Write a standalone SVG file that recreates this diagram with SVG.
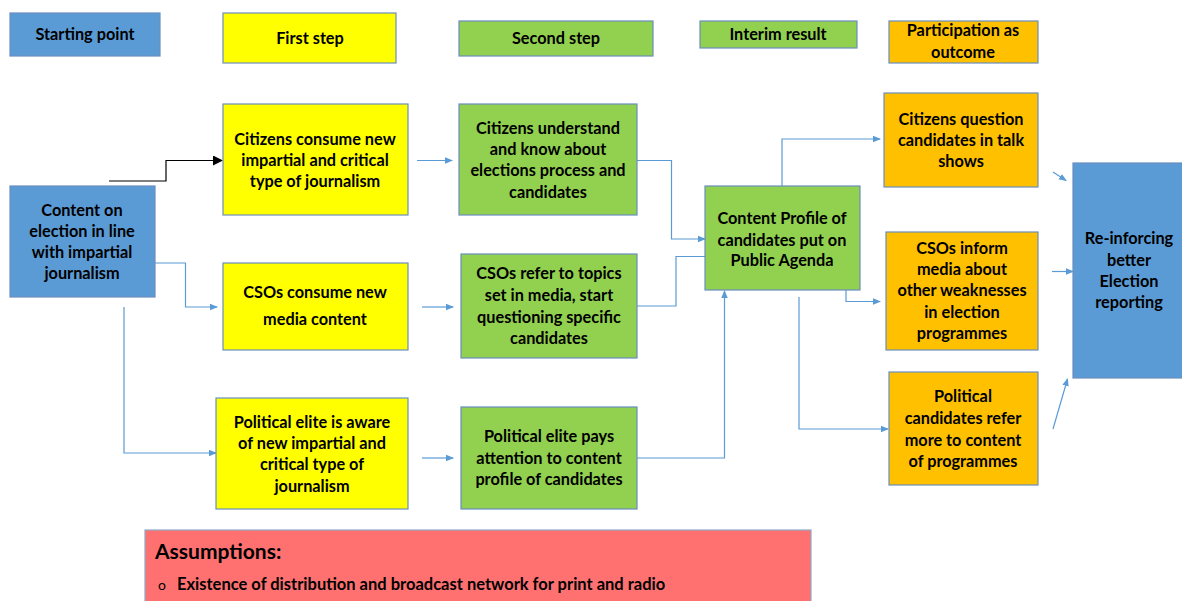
<svg xmlns="http://www.w3.org/2000/svg" width="1182" height="601" viewBox="0 0 1182 601">
<defs>
<style>
.box{stroke:#6A8EBF;stroke-width:1.2}
.blue{fill:#5B9BD5}
.yel{fill:#FFFF00}
.grn{fill:#92D050}
.org{fill:#FFC000}
text{font-family:Lato,"Open Sans","Liberation Sans",sans-serif;font-weight:bold;font-size:16.3px;fill:#000;text-anchor:middle}
.c{fill:none;stroke:#5B9BD5;stroke-width:1.2}
.k{fill:none;stroke:#000;stroke-width:1.2}
</style>
<marker id="ab" markerWidth="8" markerHeight="8" refX="7" refY="4" orient="auto" markerUnits="userSpaceOnUse">
<path d="M0,0.8 L8,4 L0,7.2 Z" fill="#5B9BD5"/>
</marker>
<marker id="ak" markerWidth="10" markerHeight="10" refX="9" refY="5" orient="auto" markerUnits="userSpaceOnUse">
<path d="M0,0 L10,5 L0,10 Z" fill="#000"/>
</marker>
</defs>
<rect width="1182" height="601" fill="#fff"/>

<g id="legend">
<g id="leg-start"><rect class="box blue" x="10" y="13" width="150" height="43"/><text x="85" y="40">Starting point</text></g>
<g id="leg-first"><rect class="box yel" x="223" y="13" width="173" height="50"/><text x="310" y="44">First step</text></g>
<g id="leg-second"><rect class="box grn" x="459" y="21" width="194" height="35"/><text x="556" y="44">Second step</text></g>
<g id="leg-interim"><rect class="box grn" x="700" y="21" width="157" height="27"/><text x="778" y="40">Interim result</text></g>
<g id="leg-outcome"><rect class="box org" x="889" y="21" width="149" height="42"/><text x="963" y="36">Participation as</text><text x="963" y="58">outcome</text></g>
</g>

<g id="connectors">
<polyline class="k" points="109,181 166,181 166,160.5 222,160.5" marker-end="url(#ak)"/>
<polyline class="c" points="155,263 185.5,263 185.5,307 217,307" marker-end="url(#ab)"/>
<polyline class="c" points="124,307 124,453 216,453" marker-end="url(#ab)"/>
<line class="c" x1="417" y1="160.5" x2="452" y2="160.5" marker-end="url(#ab)"/>
<line class="c" x1="422" y1="307" x2="453" y2="307" marker-end="url(#ab)"/>
<line class="c" x1="422" y1="458" x2="453" y2="458" marker-end="url(#ab)"/>
<polyline class="c" points="637,160.5 671.5,160.5 671.5,239 705,239" marker-end="url(#ab)"/>
<polyline class="c" points="637,306 676,306 676,256.5 715,256.5" marker-end="url(#ab)"/>
<polyline class="c" points="637,458 724.5,458 724.5,291" marker-end="url(#ab)"/>
<polyline class="c" points="782,186 782,139 880,139" marker-end="url(#ab)"/>
<polyline class="c" points="846,290 846,301.5 880,301.5" marker-end="url(#ab)"/>
<polyline class="c" points="799,297 799,429 888,429" marker-end="url(#ab)"/>
<line class="c" x1="1053" y1="172" x2="1066" y2="180.5" marker-end="url(#ab)"/>
<line class="c" x1="1052" y1="271.5" x2="1073" y2="271.5" marker-end="url(#ab)"/>
<line class="c" x1="1053" y1="429" x2="1067.5" y2="379" marker-end="url(#ab)"/>
</g>

<g id="n-content">
<rect class="box blue" x="10" y="186" width="145" height="111"/>
<text x="82" y="215.5">Content on</text><text x="82" y="236.5">election in line</text><text x="82" y="257.5">with impartial</text><text x="82" y="278.5">journalism</text>
</g>
<g id="n-cit-consume">
<rect class="box yel" x="223" y="104" width="185" height="111"/>
<text x="315" y="144.5">Citizens consume new</text><text x="315" y="165.5">impartial and critical</text><text x="315" y="186.5">type of journalism</text>
</g>
<g id="n-cso-consume">
<rect class="box yel" x="223" y="263" width="185" height="87"/>
<text x="315" y="297.5">CSOs consume new</text><text x="315" y="324.5">media content</text>
</g>
<g id="n-pol-aware">
<rect class="box yel" x="216" y="398" width="192" height="111"/>
<text x="312" y="427.5">Political elite is aware</text><text x="312" y="448.5">of new impartial and</text><text x="312" y="469.5">critical type of</text><text x="312" y="491.5">journalism</text>
</g>
<g id="n-cit-understand">
<rect class="box grn" x="459" y="104" width="178" height="111"/>
<text x="548" y="133.5">Citizens understand</text><text x="548" y="154.5">and know about</text><text x="548" y="175.5">elections process and</text><text x="548" y="197.5">candidates</text>
</g>
<g id="n-cso-refer">
<rect class="box grn" x="461" y="254" width="176" height="104"/>
<text x="549" y="278.5">CSOs refer to topics</text><text x="549" y="300.5">set in media, start</text><text x="549" y="322.5">questioning specific</text><text x="549" y="343.5">candidates</text>
</g>
<g id="n-pol-pays">
<rect class="box grn" x="461" y="407" width="176" height="102"/>
<text x="549" y="441.5">Political elite pays</text><text x="549" y="463.5">attention to content</text><text x="549" y="484.5">profile of candidates</text>
</g>
<g id="n-profile">
<rect class="box grn" x="705" y="186" width="155" height="104"/>
<text x="782" y="223.5">Content Profile of</text><text x="782" y="245.5">candidates put on</text><text x="782" y="265.5">Public Agenda</text>
</g>
<g id="n-cit-question">
<rect class="box org" x="884" y="93" width="154" height="94"/>
<text x="961" y="124.5">Citizens question</text><text x="961" y="145.5">candidates in talk</text><text x="961" y="166.5">shows</text>
</g>
<g id="n-cso-inform">
<rect class="box org" x="886" y="232" width="152" height="118"/>
<text x="962" y="253.5">CSOs inform</text><text x="962" y="274.5">media about</text><text x="962" y="295.5">other weaknesses</text><text x="962" y="317.5">in election</text><text x="962" y="338.5">programmes</text>
</g>
<g id="n-pol-cand">
<rect class="box org" x="889" y="372" width="149" height="113"/>
<text x="963" y="401.5">Political</text><text x="963" y="423.5">candidates refer</text><text x="963" y="445.5">more to content</text><text x="963" y="466.5">of programmes</text>
</g>
<g id="n-reinforce">
<rect class="box blue" x="1073" y="163" width="115" height="215"/>
<text x="1129" y="243.5">Re-inforcing</text><text x="1129" y="265.5">better</text><text x="1129" y="286.5">Election</text><text x="1129" y="307.5">reporting</text>
</g>

<g id="assumptions">
<rect x="145" y="530" width="666" height="80" fill="#FF7171" stroke="#8FA9C9" stroke-width="1.2"/>
<text x="155" y="559" style="text-anchor:start;font-size:21px">Assumptions:</text>
<text x="158" y="590" style="text-anchor:start;font-weight:normal;font-size:14px">o</text>
<text x="177" y="590" style="text-anchor:start;font-size:16.5px">Existence of distribution and broadcast network for print and radio</text>
</g>
</svg>
